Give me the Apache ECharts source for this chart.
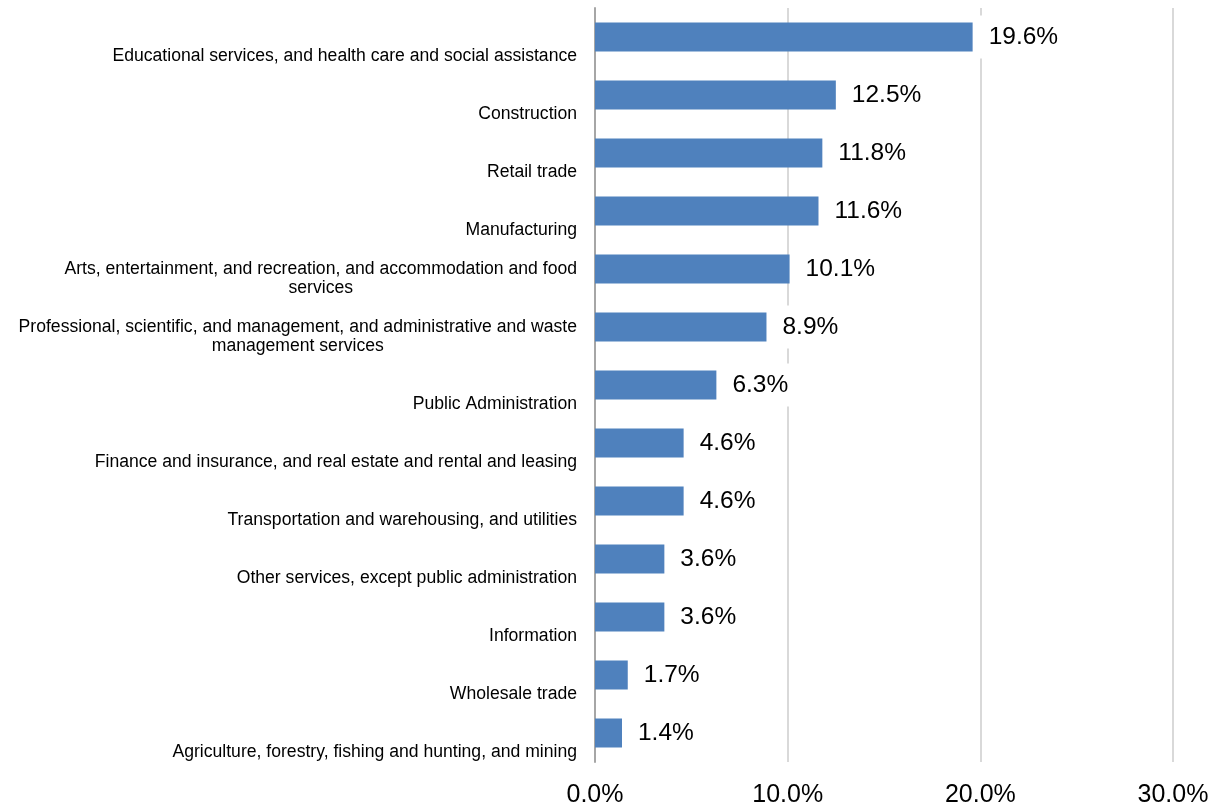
<!DOCTYPE html>
<html>
<head>
<meta charset="utf-8">
<script src="https://cdn.jsdelivr.net/npm/echarts@6/dist/echarts.min.js"></script>
<style>
  html, body { margin: 0; padding: 0; background: #ffffff; }
  #chart { width: 1217px; height: 807px; }
</style>
</head>
<body>
<div id="chart"></div>
<script>
// Industry categories, top to bottom
const categories = [
  'Educational services, and health care and social assistance',
  'Construction',
  'Retail trade',
  'Manufacturing',
  'Arts, entertainment, and recreation, and accommodation and food\nservices',
  'Professional, scientific, and management, and administrative and waste\nmanagement services',
  'Public Administration',
  'Finance and insurance, and real estate and rental and leasing',
  'Transportation and warehousing, and utilities',
  'Other services, except public administration',
  'Information',
  'Wholesale trade',
  'Agriculture, forestry, fishing and hunting, and mining'
];

// Share of employment (%)
const shares = [19.6, 12.5, 11.8, 11.6, 10.1, 8.9, 6.3, 4.6, 4.6, 3.6, 3.6, 1.7, 1.4];

// Value axis ticks (%)
const axisTicks = [0, 10, 20, 30];

const LINES_PER_LABEL = 3;
const CAT_FONT = 17.6;
const CAT_LINE = 19.5;

const chart = echarts.init(document.getElementById('chart'), null, { renderer: 'canvas' });

chart.setOption({
  animation: false,
  backgroundColor: '#ffffff',
  grid: {
    left: 595, right: 44, top: 8, bottom: 45,
    containLabel: false,
    outerBoundsMode: 'none'
  },
  xAxis: {
    type: 'value',
    min: axisTicks[0],
    max: axisTicks[axisTicks.length - 1],
    interval: axisTicks[1] - axisTicks[0],
    axisLine: { show: false },
    axisTick: { show: false },
    splitLine: { show: true, lineStyle: { color: '#d9d9d9', width: 2 } },
    axisLabel: {
      margin: 21,
      color: '#000000',
      fontFamily: 'Liberation Sans, Arial, sans-serif',
      fontSize: 25,
      showMinLabel: true,
      showMaxLabel: true,
      hideOverlap: false,
      formatter: v => v.toFixed(1) + '%'
    }
  },
  yAxis: {
    type: 'category',
    inverse: true,
    data: categories,
    axisLine: { show: true, lineStyle: { color: '#a6a6a6', width: 2 } },
    axisTick: { show: false },
    splitLine: { show: false },
    axisLabel: {
      interval: 0,
      margin: 18,
      showMinLabel: true,
      showMaxLabel: true,
      hideOverlap: false,
      align: 'right',
      verticalAlign: 'middle',
      lineHeight: CAT_LINE,
      fontFamily: 'Liberation Sans, Arial, sans-serif',
      fontSize: CAT_FONT,
      color: '#000000',
      // Pad every label to the same line count so its last line sits at the band's bottom edge
      formatter: function (name) {
        const lines = name.split('\n');
        const out = [];
        for (let i = lines.length; i < LINES_PER_LABEL; i++) out.push('{e| }');
        lines.forEach(l => out.push('{c|' + l + '}'));
        return out.join('\n');
      },
      rich: {
        c: {
          align: 'center',
          lineHeight: CAT_LINE,
          fontFamily: 'Liberation Sans, Arial, sans-serif',
          fontSize: CAT_FONT,
          color: '#000000'
        },
        e: {
          lineHeight: CAT_LINE,
          fontSize: CAT_FONT
        }
      }
    }
  },
  series: [{
    type: 'bar',
    data: shares,
    barWidth: '50%',
    itemStyle: { color: '#4f81bd' },
    label: {
      show: true,
      position: 'right',
      distance: 3,
      backgroundColor: '#ffffff',
      padding: [9, 6, 9, 13],
      color: '#000000',
      fontFamily: 'Liberation Sans, Arial, sans-serif',
      fontSize: 24.5,
      formatter: p => p.value.toFixed(1) + '%'
    }
  }]
});
</script>
</body>
</html>
